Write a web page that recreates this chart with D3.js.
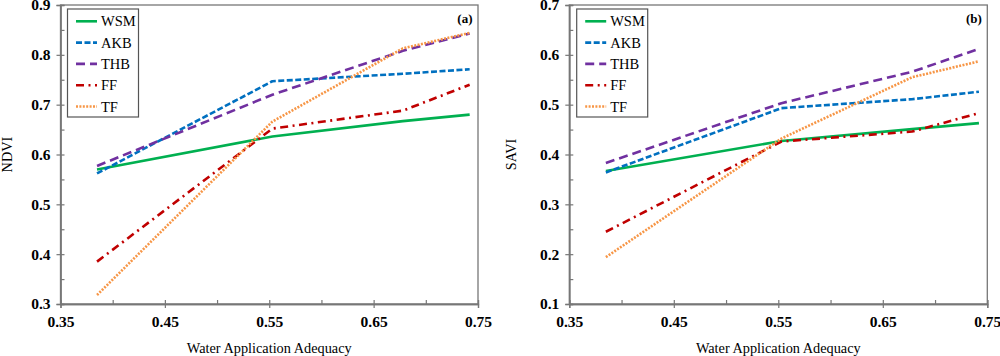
<!DOCTYPE html>
<html><head><meta charset="utf-8">
<script src="https://cdn.jsdelivr.net/npm/d3@7"></script>
<style>
html,body{margin:0;padding:0;background:#fff;}
svg text{font-family:"Liberation Serif","Times New Roman",Times,serif;}
</style></head>
<body>
<svg id="chart" width="1000" height="356"></svg>
<script>
// ---- data ----
const seriesNames = ["WSM", "AKB", "THB", "FF", "TF"];
const xValues = [0.385, 0.553, 0.678, 0.742];
const ndviWSM = [0.570, 0.636, 0.667, 0.680];
const ndviAKB = [0.562, 0.747, 0.762, 0.771];
const ndviTHB = [0.577, 0.720, 0.808, 0.843];
const ndviFF  = [0.385, 0.652, 0.688, 0.740];
const ndviTF  = [0.318, 0.666, 0.813, 0.844];
const saviWSM = [0.367, 0.427, 0.451, 0.463];
const saviAKB = [0.364, 0.493, 0.511, 0.526];
const saviTHB = [0.383, 0.503, 0.566, 0.612];
const saviFF  = [0.245, 0.426, 0.446, 0.483];
const saviTF  = [0.194, 0.432, 0.555, 0.587];
const xTicks = [0.35, 0.45, 0.55, 0.65, 0.75];
const xMinor = [0.40, 0.50, 0.60, 0.70];
const ndviTicks = [0.3, 0.4, 0.5, 0.6, 0.7, 0.8, 0.9];
const saviTicks = [0.1, 0.2, 0.3, 0.4, 0.5, 0.6, 0.7];
const xTitle = "Water Application Adequacy";

const FONT = '"Liberation Serif","Times New Roman",Times,serif';
const styles = {
  WSM: {color: "#00b050", dash: null},
  AKB: {color: "#0070c0", dash: "6,2.5"},
  THB: {color: "#7030a0", dash: "9,5"},
  FF:  {color: "#c00000", dash: "8,4.5,2,4.5"},
  TF:  {color: "#f79646", dash: "2,1.4"}
};

const svg = d3.select("#chart");

function panel(opts) {
  const {x0, x1, y0, y1, yDomain, yTicks, yTitle, tag, data, legendX, yTitleX} = opts;
  const g = svg.append("g");
  const x = d3.scaleLinear().domain([0.35, 0.75]).range([x0, x1]);
  const y = d3.scaleLinear().domain(yDomain).range([y1, y0]);
  const minorY = [];
  for (let i = 0; i < yTicks.length - 1; i++) minorY.push(+((yTicks[i] + yTicks[i+1]) / 2).toFixed(3));

  g.append("rect").attr("x", x0).attr("y", y0).attr("width", x1 - x0).attr("height", y1 - y0)
    .attr("fill", "none").attr("stroke", "#777").attr("stroke-width", 1.3);

  const xin = g.append("g").attr("transform", `translate(0,${y1})`)
    .call(d3.axisBottom(x).tickValues(xTicks.concat(xMinor)).tickSize(-4).tickFormat(""));
  const yin = g.append("g").attr("transform", `translate(${x0},0)`)
    .call(d3.axisLeft(y).tickValues(yTicks.concat(minorY)).tickSize(-4).tickFormat(""));
  const xout = g.append("g").attr("transform", `translate(0,${y1})`)
    .call(d3.axisBottom(x).tickValues(xTicks).tickSize(4).tickPadding(6).tickFormat(d3.format(".2f")));
  const yout = g.append("g").attr("transform", `translate(${x0},0)`)
    .call(d3.axisLeft(y).tickValues(yTicks).tickSize(4).tickPadding(6).tickFormat(d3.format(".1f")));
  [xin, yin, xout, yout].forEach(a => {
    a.attr("font-family", FONT);
    a.select(".domain").attr("stroke", "#777").attr("stroke-width", 1.3);
    a.selectAll(".tick line").attr("stroke", "#777").attr("stroke-width", 1.2);
    a.selectAll("text").attr("fill", "#000").attr("font-family", FONT)
      .attr("font-size", 15.5).attr("font-weight", "bold");
  });
  xout.selectAll("text").attr("dy", "0.85em");

  const line = d3.line().x(d => x(d[0])).y(d => y(d[1]));
  seriesNames.forEach(name => {
    const s = styles[name];
    const pts = xValues.map((xv, i) => [xv, data[name][i]]);
    g.append("path").datum(pts).attr("d", line).attr("fill", "none")
      .attr("stroke", s.color).attr("stroke-width", 2.6)
      .attr("stroke-dasharray", s.dash).attr("stroke-linejoin", "round");
  });

  const lg = g.append("g");
  lg.append("rect").attr("x", legendX).attr("y", 9).attr("width", 71).attr("height", 108)
    .attr("fill", "#fff").attr("stroke", "#555").attr("stroke-width", 1.2);
  seriesNames.forEach((name, i) => {
    const s = styles[name];
    const yy = 21.3 + i * 21.3;
    lg.append("line").attr("x1", legendX + 8.5).attr("x2", legendX + 29.5)
      .attr("y1", yy).attr("y2", yy).attr("stroke", s.color).attr("stroke-width", 2.6)
      .attr("stroke-dasharray", s.dash);
    lg.append("text").attr("x", legendX + 33.5).attr("y", yy).attr("dy", "0.35em")
      .attr("font-family", FONT).attr("font-size", 14.5).attr("fill", "#000").text(name);
  });

  g.append("text").attr("x", x1 - 5.5).attr("y", 18.5).attr("dy", "0.35em")
    .attr("text-anchor", "end").attr("font-family", FONT).attr("font-size", 13)
    .attr("font-weight", "bold").text(tag);

  g.append("text").attr("x", (x0 + x1) / 2).attr("y", 348).attr("dy", "0.35em")
    .attr("text-anchor", "middle").attr("font-family", FONT).attr("font-size", 14.3).text(xTitle);
  g.append("text").attr("transform", `translate(${yTitleX},${(y0 + y1) / 2}) rotate(-90)`)
    .attr("dy", "0.35em").attr("text-anchor", "middle").attr("font-family", FONT)
    .attr("font-size", 14.3).text(yTitle);
}

panel({x0: 60.5, x1: 478, y0: 5, y1: 304, yDomain: [0.3, 0.9], yTicks: ndviTicks,
  yTitle: "NDVI", tag: "(a)", legendX: 67.5, yTitleX: 7,
  data: {WSM: ndviWSM, AKB: ndviAKB, THB: ndviTHB, FF: ndviFF, TF: ndviTF}});
panel({x0: 569.3, x1: 987.3, y0: 5, y1: 304, yDomain: [0.1, 0.7], yTicks: saviTicks,
  yTitle: "SAVI", tag: "(b)", legendX: 576.7, yTitleX: 511,
  data: {WSM: saviWSM, AKB: saviAKB, THB: saviTHB, FF: saviFF, TF: saviTF}});
</script>
</body></html>
